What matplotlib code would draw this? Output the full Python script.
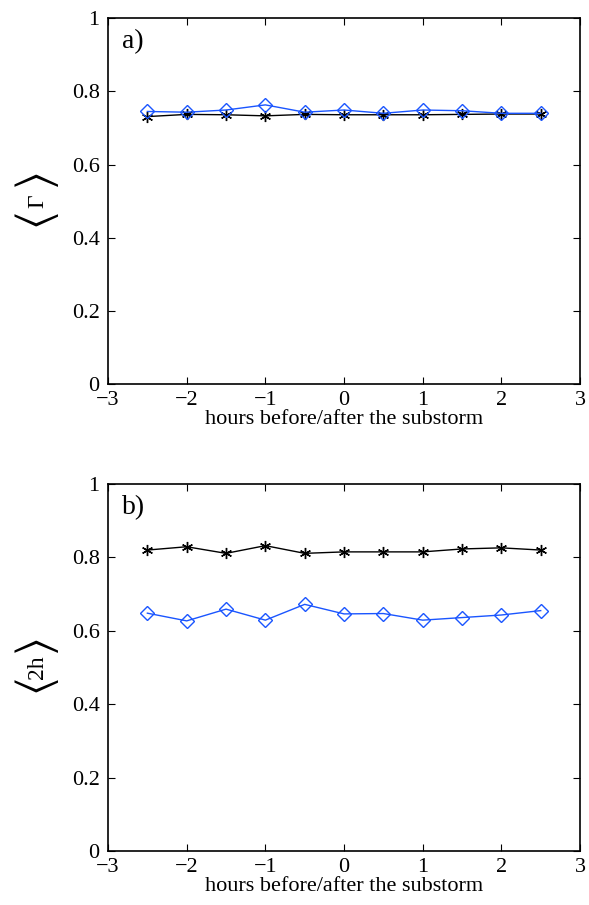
import matplotlib
matplotlib.use("Agg")
import matplotlib.pyplot as plt
import numpy as np

hours = [-2.5, -2, -1.5, -1, -0.5, 0, 0.5, 1, 1.5, 2, 2.5]
gamma_black = [0.731, 0.737, 0.736, 0.733, 0.737, 0.736, 0.736, 0.736, 0.737, 0.738, 0.738]
gamma_blue = [0.745, 0.743, 0.749, 0.763, 0.743, 0.749, 0.740, 0.749, 0.747, 0.740, 0.740]
h2_black = [0.820, 0.829, 0.811, 0.832, 0.811, 0.815, 0.815, 0.815, 0.823, 0.826, 0.820]
h2_blue = [0.648, 0.627, 0.659, 0.629, 0.672, 0.646, 0.647, 0.629, 0.636, 0.643, 0.655]
xticks = [-3, -2, -1, 0, 1, 2, 3]
yticks = [0, 0.2, 0.4, 0.6, 0.8, 1]
ytick_labels = ["0", "0.2", "0.4", "0.6", "0.8", "1"]
panel_labels = ["a)", "b)"]
ylabel_inner = ["\u0393", "2h"]
xlabel = "hours before/after the substorm"

plt.rcParams['font.family'] = ['Liberation Serif', 'DejaVu Serif']
plt.rcParams['mathtext.fontset'] = 'stix'

fig = plt.figure(figsize=(5.89, 9.05), dpi=100)
blue = '#1a55ff'
axes_rects = [[0.1834, 0.5757, 0.8014, 0.4042], [0.1834, 0.0597, 0.8014, 0.4055]]
series = [(gamma_black, gamma_blue), (h2_black, h2_blue)]

for i, rect in enumerate(axes_rects):
    ax = fig.add_axes(rect)
    blk, blu = series[i]
    ax.plot(hours, blk, color='black', lw=1.0, marker=(6, 2, 0), markersize=8,
            markeredgewidth=1.0)
    ax.plot(hours, blu, color=blue, lw=1.0, marker='D', markersize=7,
            markerfacecolor='none', markeredgecolor=blue, markeredgewidth=1.0)
    ax.set_xlim(-3, 3)
    ax.set_ylim(0, 1)
    ax.set_xticks(xticks)
    ax.set_xticklabels([("\u2212%d" % -t) if t < 0 else str(t) for t in xticks])
    ax.set_yticks(yticks)
    ax.set_yticklabels(ytick_labels)
    ax.tick_params(direction='in', top=True, right=True, labelsize=16,
                   length=5, width=0.8)
    ax.tick_params(axis='x', pad=5)
    ax.tick_params(axis='y', pad=6)
    for s in ax.spines.values():
        s.set_linewidth(1.2)
    ax.set_xlabel(xlabel, fontsize=16, labelpad=0)
    ax.text(0.03, 0.97, panel_labels[i], transform=ax.transAxes,
            fontsize=20, va='top', ha='left')
    # y label: large angle brackets around inner text (rotated)
    cy = rect[1] + rect[3] * 0.5
    cx = 0.062
    fig.text(cx, cy - 0.022, r'$\langle$', fontsize=34, rotation=90,
             ha='center', va='center')
    fig.text(cx, cy + 0.022, r'$\rangle$', fontsize=34, rotation=90,
             ha='center', va='center')
    fig.text(cx + 0.002, cy, ylabel_inner[i], fontsize=17, rotation=90,
             ha='center', va='center')

fig.savefig('out.png', dpi=100)
